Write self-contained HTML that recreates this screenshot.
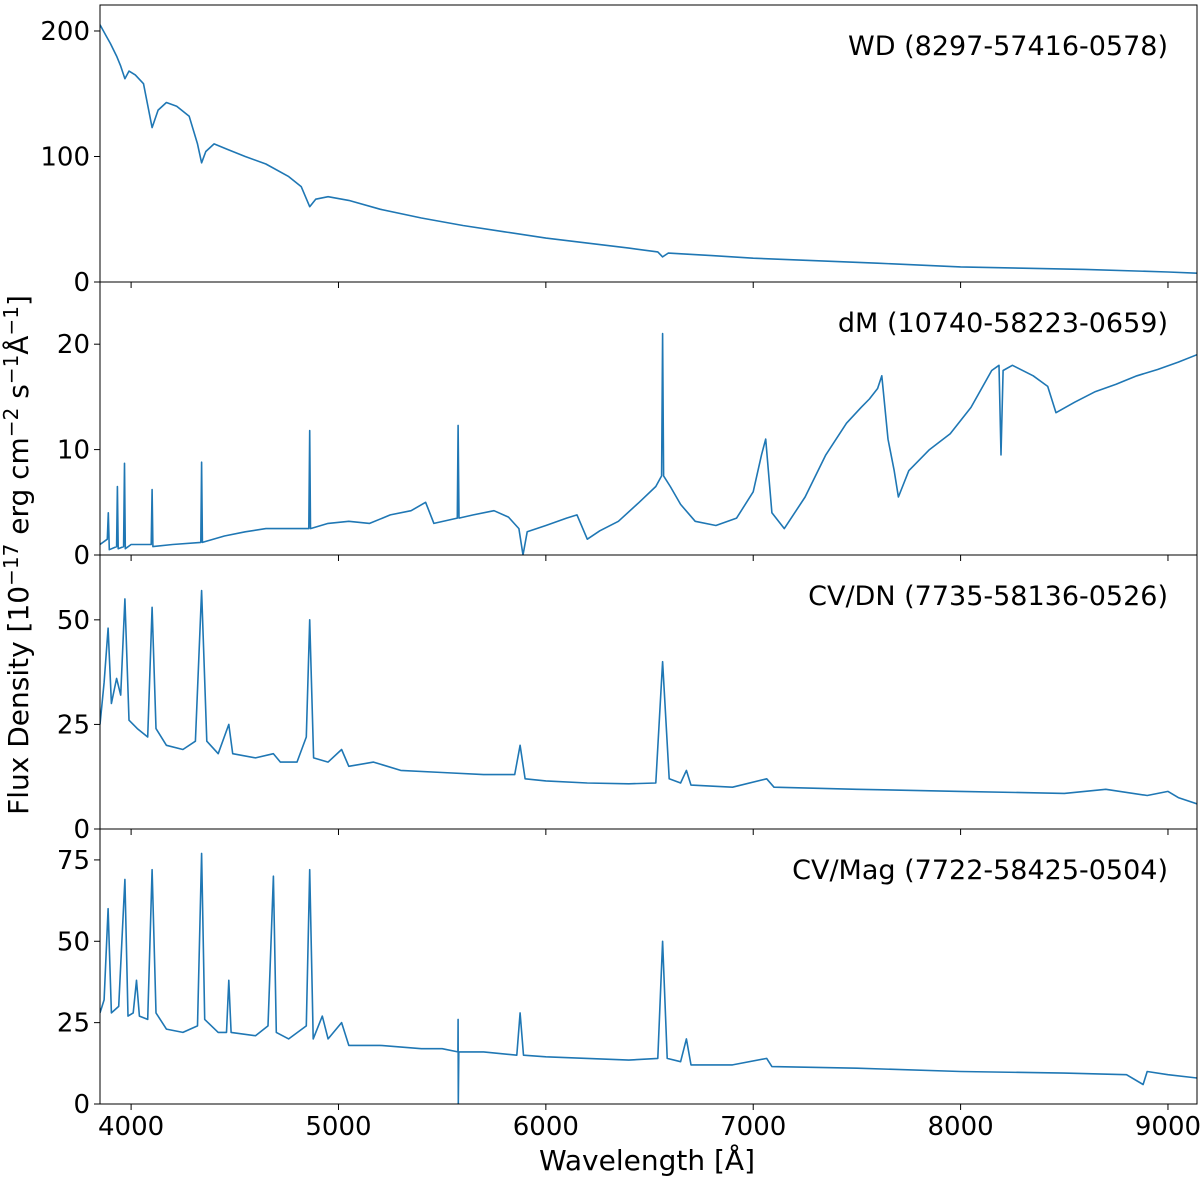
<!DOCTYPE html>
<html><head><meta charset="utf-8"><style>
body{margin:0;background:#fff;}
svg{display:block;font-family:"DejaVu Sans","Liberation Sans",sans-serif;}
</style></head><body>
<svg id="c" width="1200" height="1180"></svg>
<script>
const xTicks=[4000,5000,6000,7000,8000,9000];
const titles=["WD (8297-57416-0578)","dM (10740-58223-0659)","CV/DN (7735-58136-0526)","CV/Mag (7722-58425-0504)"];
const yTicks=[[0,100,200],[0,10,20],[0,25,50],[0,25,50,75]];
const yMax=[220.7,25.9,65.5,84.5];
const wdW=[3850,3880,3900,3930,3950,3970,3990,4020,4060,4101,4130,4170,4220,4280,4320,4340,4360,4400,4460,4550,4650,4760,4820,4861,4890,4950,5050,5200,5400,5600,5800,6000,6200,6400,6540,6563,6590,6800,7000,7300,7600,8000,8300,8600,9000,9140];
const wdF=[205,196,190,180,172,162,168,165,158,123,137,143,140,132,110,95,104,110,106,100,94,84,76,60,66,68,65,58,51,45,40,35,31,27,24,20,23,21,19,17,15,12,11,10,8,7];
const dmW=[3850,3885,3890,3895,3930,3934,3938,3964,3968,3972,4000,4050,4097,4101,4105,4200,4336,4340,4344,4450,4550,4650,4750,4857,4861,4865,4950,5050,5150,5250,5350,5420,5460,5573,5577,5581,5650,5750,5820,5870,5890,5910,6000,6100,6150,6200,6260,6350,6450,6530,6558,6563,6568,6600,6650,6720,6820,6920,7000,7040,7060,7090,7150,7250,7350,7450,7520,7560,7600,7620,7650,7680,7700,7750,7850,7950,8050,8150,8185,8195,8205,8250,8350,8420,8460,8550,8650,8750,8850,8950,9050,9140];
const dmF=[1,1.5,4,0.5,0.8,6.5,0.6,0.8,8.7,0.6,1,1,1,6.2,0.8,1,1.2,8.8,1.2,1.8,2.2,2.5,2.5,2.5,11.8,2.5,3,3.2,3,3.8,4.2,5,3,3.5,12.3,3.5,3.8,4.2,3.6,2.5,0,2.2,2.8,3.5,3.8,1.5,2.3,3.2,5,6.5,7.5,21,7.5,6.5,4.8,3.2,2.8,3.5,6,9.5,11,4,2.5,5.5,9.5,12.5,14,14.8,15.8,17,11,8,5.5,8,10,11.5,14,17.5,18,9.5,17.5,18,17,16,13.5,14.5,15.5,16.2,17,17.6,18.3,19];
const dnW=[3850,3870,3889,3905,3930,3950,3970,3990,4030,4080,4101,4120,4170,4250,4310,4340,4365,4420,4471,4490,4600,4686,4720,4800,4845,4861,4880,4950,5015,5050,5169,5300,5500,5700,5850,5876,5900,6000,6200,6400,6530,6563,6595,6650,6678,6700,6900,7065,7100,7500,8000,8500,8700,8900,9000,9050,9140];
const dnF=[25,35,48,30,36,32,55,26,24,22,53,24,20,19,21,57,21,18,25,18,17,18,16,16,22,50,17,16,19,15,16,14,13.5,13,13,20,12,11.5,11,10.8,11,40,12,11,14,10.5,10,12,10,9.5,9,8.5,9.5,8,9,7.5,6];
const cmW=[3850,3870,3889,3905,3940,3970,3985,4010,4026,4040,4080,4101,4120,4170,4250,4320,4340,4355,4420,4460,4471,4482,4600,4660,4686,4700,4760,4845,4861,4878,4922,4950,5015,5050,5200,5400,5500,5576,5577,5578,5580,5700,5860,5876,5892,6000,6200,6400,6540,6563,6585,6650,6678,6700,6900,7065,7090,7500,8000,8500,8800,8880,8900,9000,9140];
const cmF=[28,32,60,28,30,69,27,28,38,27,26,72,28,23,22,24,77,26,22,22,38,22,21,24,70,22,20,24,72,20,27,20,25,18,18,17,17,16,26,0,16,16,15,28,15,14.5,14,13.5,14,50,14,13,20,12,12,14,11.5,11,10,9.5,9,6,10,9,8];
const series=[[wdW,wdF],[dmW,dmF],[dnW,dnF],[cmW,cmF]];
const names=["wd","dm","cv-dn","cv-mag"];
const L=100,R=1197,X0=3850,X1=9140;
const tops=[5,282,555,829],bots=[282,555,829,1104];
const ns="http://www.w3.org/2000/svg";
const svg=document.getElementById('c');
function mk(t,a,p){const e=document.createElementNS(ns,t);for(const k in a)e.setAttribute(k,a[k]);(p||svg).appendChild(e);return e;}
const xs=w=>L+(w-X0)/(X1-X0)*(R-L);
for(let i=0;i<4;i++){
  const g=mk('g',{});
  
  
  const T=tops[i],B=bots[i];
  const ys=v=>B-v/yMax[i]*(B-T);
  const [W,F]=series[i];
  const d=W.map((w,j)=>(j?'L':'M')+xs(w).toFixed(1)+' '+ys(F[j]).toFixed(1)).join(' ');
  const cp=mk('clipPath',{id:'cp'+i},g);mk('rect',{x:L,y:T,width:R-L,height:B-T},cp);
  const p=mk('path',{d:d,fill:'none',stroke:'#1f77b4','stroke-width':1.6,'stroke-linejoin':'round','clip-path':'url(#cp'+i+')'},g);
  
  
  const fr=mk('rect',{x:L,y:T,width:R-L,height:B-T,fill:'none',stroke:'#000','stroke-width':1},g);
  
  
  yTicks[i].forEach(v=>{
    mk('line',{x1:L-6,x2:L,y1:ys(v),y2:ys(v),stroke:'#000'},g);
    const t=mk('text',{x:L-10,y:ys(v)+9,'text-anchor':'end','font-size':26},g);t.textContent=v;
    
    
  });
  xTicks.forEach(v=>{mk('line',{x1:xs(v),x2:xs(v),y1:B,y2:B+6,stroke:'#000'},g);});
  const tt=mk('text',{x:1168,y:T+50,'text-anchor':'end','font-size':27},g);tt.textContent=titles[i];
  
  
}
xTicks.forEach(v=>{const t=mk('text',{x:xs(v),y:1135,'text-anchor':'middle','font-size':26});t.textContent=v;
  
  });
const xt=mk('text',{x:647,y:1170,'text-anchor':'middle','font-size':28});xt.textContent='Wavelength [Å]';


const yt=mk('text',{x:0,y:0,'text-anchor':'middle','font-size':28,transform:'translate(28,555) rotate(-90)'});
yt.innerHTML='Flux Density [10<tspan dy="-10" font-size="20">−17</tspan><tspan dy="10"> erg cm</tspan><tspan dy="-10" font-size="20">−2</tspan><tspan dy="10"> s</tspan><tspan dy="-10" font-size="20">−1</tspan><tspan dy="10">Å</tspan><tspan dy="-10" font-size="20">−1</tspan><tspan dy="10">]</tspan>';


</script>
</body></html>
